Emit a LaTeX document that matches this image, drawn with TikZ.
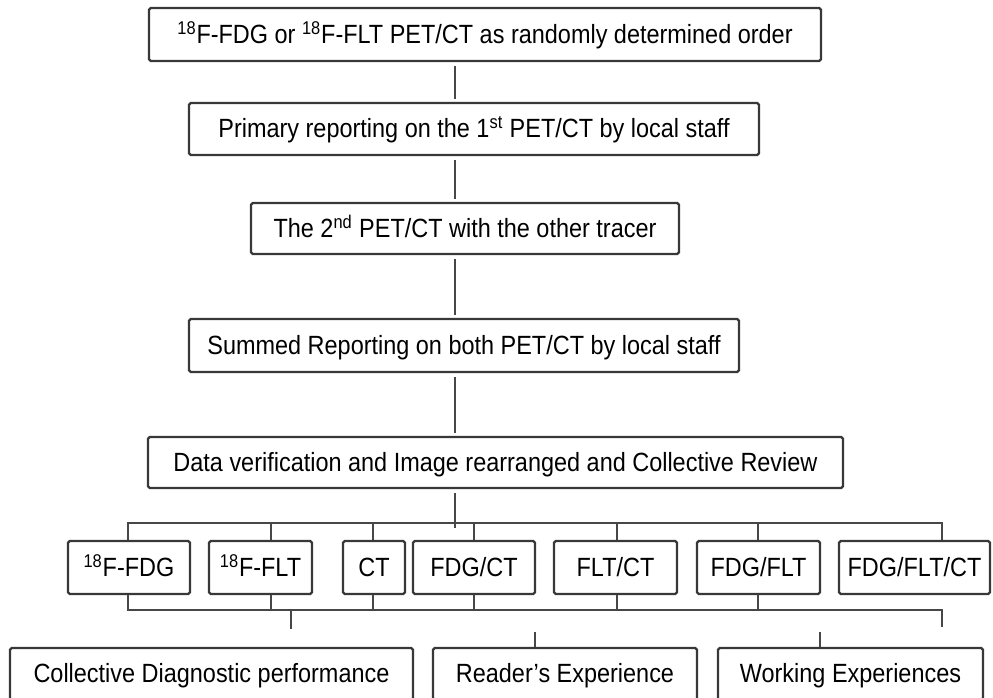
\documentclass[tikz,border=0pt]{standalone}
\usepackage{fontspec}
\setmainfont{Liberation Sans}[FakeStretch=0.89]
\tikzset{
 box/.style={draw=black!78, line width=1.3pt, rounded corners=1pt, fill=white, inner sep=0pt, align=center, font=\fontsize{15}{17}\selectfont, text=black, text height=12pt, text depth=2pt},
 conn/.style={draw=black!72, line width=1.1pt},
 gap/.style={shorten <=0.08cm, shorten >=0.06cm},
}
\begin{document}
\begin{tikzpicture}[x=0.02cm,y=-0.02cm]
\useasboundingbox (0,0) rectangle (993,697);
\fill[white] (0,0) rectangle (993,697);
% main chain
\node[box, minimum width=13.44cm, minimum height=1.06cm] (b1) at (485,34.5) {\textsuperscript{18}F-FDG or \textsuperscript{18}F-FLT PET/CT as randomly determined order};
\node[box, minimum width=11.4cm, minimum height=1.04cm] (b2) at (474,129) {Primary reporting on the 1\textsuperscript{st} PET/CT by local staff};
\node[box, minimum width=8.56cm, minimum height=1.02cm] (b3) at (465,228.5) {The 2\textsuperscript{nd} PET/CT with the other tracer};
\node[box, minimum width=11.0cm, minimum height=1.06cm] (b4) at (464,345.5) {Summed Reporting on both PET/CT by local staff};
\node[box, minimum width=13.9cm, minimum height=1.02cm] (b5) at (495.5,462.5) {Data verification and Image rearranged and Collective Review};
% row of modalities
\node[box, minimum width=2.44cm, minimum height=1.06cm] (m1) at (129,567.5) {\textsuperscript{18}F-FDG};
\node[box, minimum width=2.06cm, minimum height=1.06cm] (m2) at (260.5,567.5) {\textsuperscript{18}F-FLT};
\node[box, minimum width=1.24cm, minimum height=1.06cm] (m3) at (374,567.5) {CT};
\node[box, minimum width=2.44cm, minimum height=1.06cm] (m4) at (474,567.5) {FDG/CT};
\node[box, minimum width=2.46cm, minimum height=1.06cm] (m5) at (615.5,567.5) {FLT/CT};
\node[box, minimum width=2.46cm, minimum height=1.06cm] (m6) at (758.5,567.5) {FDG/FLT};
\node[box, minimum width=3.02cm, minimum height=1.06cm] (m7) at (914.5,567.5) {FDG/FLT/CT};
% outcomes
\node[box, minimum width=8.06cm, minimum height=1.04cm] (o1) at (211.5,674) {Collective Diagnostic performance};
\node[box, minimum width=5.28cm, minimum height=1.04cm] (o2) at (565,674) {Reader's Experience};
\node[box, minimum width=5.3cm, minimum height=1.04cm] (o3) at (850.5,674) {Working Experiences};
% coordinates
\coordinate (cx) at (455,0);
\coordinate (tl) at (128,523);
\coordinate (tr) at (942,523);
\coordinate (bl) at (128,610);
\coordinate (br) at (942,610);
\coordinate (x2) at (271,0);
\coordinate (x3) at (373,0);
\coordinate (x4) at (474,0);
\coordinate (x5) at (617,0);
\coordinate (x6) at (758,0);
\coordinate (brend) at (942,627);
\coordinate (s1a) at (291,610);
\coordinate (s1b) at (291,629);
\coordinate (s2) at (535,632);
\coordinate (s3) at (820,632);
% chain connectors
\draw[conn, gap] (b1.south -| cx) -- (b2.north -| cx);
\draw[conn, gap] (b2.south -| cx) -- (b3.north -| cx);
\draw[conn, gap] (b3.south -| cx) -- (b4.north -| cx);
\draw[conn, gap] (b4.south -| cx) -- (b5.north -| cx);
\draw[conn, shorten <=0.08cm] (b5.south -| cx) -- ([yshift=-0.1cm]cx |- tl);
% top bus
\draw[conn] (m1.north -| tl) -- (tl) -- (tr) -- (m7.north -| tr);
\draw[conn] (m2.north -| x2) -- (x2 |- tl);
\draw[conn] (m3.north -| x3) -- (x3 |- tl);
\draw[conn] (m4.north -| x4) -- (x4 |- tl);
\draw[conn] (m5.north -| x5) -- (x5 |- tl);
\draw[conn] (m6.north -| x6) -- (x6 |- tl);
% bottom bus
\draw[conn] (m1.south -| bl) -- (bl) -- (br) -- (brend);
\draw[conn] (m2.south -| x2) -- (x2 |- bl);
\draw[conn] (m3.south -| x3) -- (x3 |- bl);
\draw[conn] (m4.south -| x4) -- (x4 |- bl);
\draw[conn] (m5.south -| x5) -- (x5 |- bl);
\draw[conn] (m6.south -| x6) -- (x6 |- bl);
% stubs
\draw[conn] (s1a) -- (s1b);
\draw[conn] (s2) -- (o2.north -| s2);
\draw[conn] (s3) -- (o3.north -| s3);
\end{tikzpicture}
\end{document}
